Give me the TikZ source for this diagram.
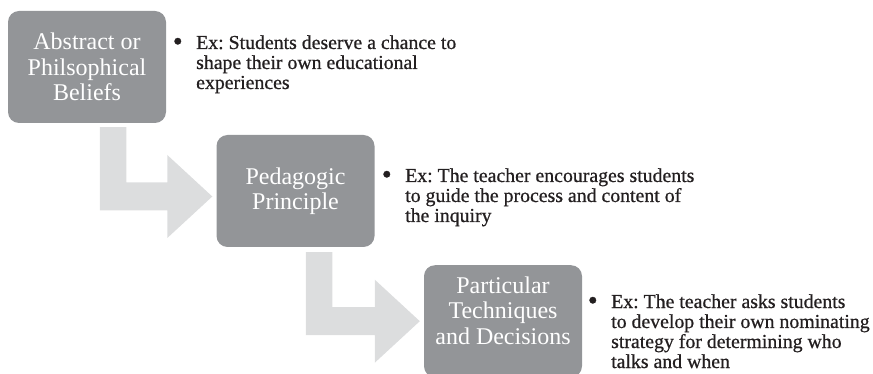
\documentclass[tikz,border=0pt]{standalone}
\usepackage{fontspec}
\setmainfont{Liberation Serif}
\newfontfamily\exfont{Liberation Serif}[FakeBold=0.7]
\frenchspacing
\usetikzlibrary{calc}
\definecolor{boxgray}{HTML}{939598}
\definecolor{arrowgray}{HTML}{DCDDDE}
\definecolor{txtdark}{HTML}{231F20}
\tikzset{
  stagebox/.style={fill=boxgray, rounded corners=11pt, minimum width=158pt,
    minimum height=112pt, inner sep=0pt, text=white, align=center,
    font=\fontsize{24}{25.5}\selectfont},
  stagetext/.style={inner sep=0pt, text=white, align=center,
    font=\fontsize{24}{25.5}\selectfont},
  bullettext/.style={inner sep=0pt, anchor=base west, text=txtdark,
    font=\exfont\fontsize{19.8}{20}\selectfont},
  arrowfill/.style={fill=arrowgray},
}
\newcommand{\bulletlines}[1]{\vtop{\baselineskip=20pt #1}}
\newcommand{\firstline}[1]{\hbox{\llap{\raisebox{-1.5pt}{\fontsize{28}{20}\selectfont •}\hspace{13.5pt}}#1}}
\newcommand{\drawbent}[2]{%
  \fill[arrowfill] (#1) -- ($(#1)+(26.5,0)$) -- ($(#1|-#2)+(26.5,-14)$)
    -- ($(#2)+(-45,-14)$) -- ($(#2)+(-45,-41.5)$) -- (#2)
    -- ($(#2)+(-45,41.5)$) -- ($(#2)+(-45,14)$) -- ($(#1|-#2)+(0,14)$) -- cycle;}
\begin{document}
\begin{tikzpicture}[x=1pt,y=-1pt]
\path[use as bounding box, clip] (0,0) rectangle (873,374);
\node[stagebox] (b1) at (87,67) {Abstract or\\Philsophical\\Beliefs};
\node[stagebox] (b2) at (295.5,191) {Pedagogic\\Principle};
\node[stagebox, anchor=north] (b3) at (503,265) {};
\node[stagetext] (b3t) at (503,310.5) {Particular\\Techniques\\and Decisions};

\coordinate (s1) at ($(b1.south west)+(92,4)$);
\coordinate (t1) at ($(b2.west)+(-4,5.5)$);
\coordinate (s2) at ($(b2.south west)+(89.5,5)$);
\coordinate (t2) at ($(b3.west)+(-4,0)$);
\drawbent{s1}{t1}
\drawbent{s2}{t2}

\node[bullettext] (e1) at (196,49) {\bulletlines{%
  \firstline{Ex: Students deserve a chance to}%
  \hbox{shape their own educational}%
  \hbox{experiences}}};
\node[bullettext] (e2) at (405,182) {\bulletlines{%
  \firstline{Ex: The teacher encourages students}%
  \hbox{to guide the process and content of}%
  \hbox{the inquiry}}};
\node[bullettext] (e3) at (611,308) {\bulletlines{%
  \firstline{Ex: The teacher asks students}%
  \hbox{to develop their own nominating}%
  \hbox{strategy for determining who}%
  \hbox{talks and when}}};
\end{tikzpicture}
\end{document}
